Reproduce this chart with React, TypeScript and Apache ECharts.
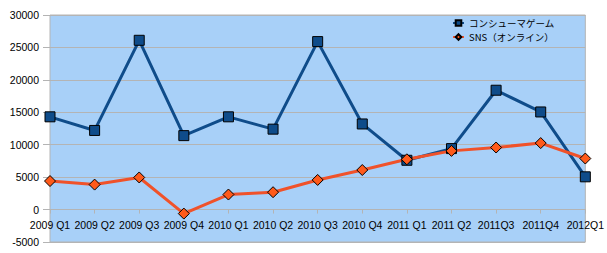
import React, { useEffect, useRef } from "react";
import * as echarts from "echarts";

const categories = [
  "2009 Q1", "2009 Q2", "2009 Q3", "2009 Q4",
  "2010 Q1", "2010 Q2", "2010 Q3", "2010 Q4",
  "2011 Q1", "2011 Q2", "2011Q3", "2011Q4", "2012Q1",
];
const consumerName = "コンシューマゲーム";
const snsName = "SNS（オンライン）";
const consumerValues = [14300, 12200, 26100, 11400, 14300, 12400, 25900, 13200, 7600, 9400, 18400, 15050, 5050];
const snsValues = [4400, 3850, 4950, -620, 2320, 2680, 4570, 6100, 7750, 9050, 9570, 10250, 7870];
const yMin = -5000;
const yMax = 30000;
const yInterval = 5000;

export default function App() {
  const ref = useRef<HTMLDivElement>(null);
  useEffect(() => {
    if (!ref.current) return;
    const chart = echarts.init(ref.current, undefined, { renderer: "svg" });
    const gray = "#b4b4b4";
    const font = "Liberation Sans";
    const gridTop = 15;
    const gridBottom = 11;
    const plotH = 253 - gridTop - gridBottom;
    // shift the category axis up from the bottom edge to the value 0
    const zeroOffset = -(plotH * (0 - yMin)) / (yMax - yMin);
    chart.setOption({
      animation: false,
      backgroundColor: "#ffffff",
      grid: {
        left: 50,
        right: 19,
        top: gridTop,
        bottom: gridBottom,
        show: true,
        backgroundColor: "#a8d0f8",
        borderColor: gray,
        borderWidth: 1,
      },
      legend: {
        orient: "vertical",
        left: 452,
        top: 16,
        padding: 0,
        itemWidth: 11,
        itemHeight: 7,
        itemGap: 0,
        textStyle: { fontSize: 9.5, lineHeight: 14, fontFamily: "Noto Sans CJK JP", color: "#000" },
        data: [consumerName, snsName],
      },
      xAxis: {
        type: "category",
        data: categories,
        boundaryGap: false,
        position: "bottom",
        offset: zeroOffset,
        axisLine: { show: true, onZero: false, lineStyle: { color: gray, width: 1 } },
        axisTick: { show: true, length: 4, lineStyle: { color: gray } },
        splitLine: { show: false },
        axisLabel: { interval: 0, margin: 10, fontSize: 10.5, fontFamily: font, color: "#000" },
      },
      yAxis: {
        type: "value",
        min: yMin,
        max: yMax,
        interval: yInterval,
        axisLine: { show: false },
        axisTick: { show: true, length: 7, lineStyle: { color: gray } },
        splitLine: { show: true, lineStyle: { color: gray, width: 1 } },
        axisLabel: {
          margin: 11,
          fontSize: 10.5,
          fontFamily: font,
          color: "#000",
          formatter: (v: number) => String(v),
        },
      },
      series: [
        {
          name: consumerName,
          type: "line",
          data: consumerValues,
          symbol: "rect",
          symbolSize: 10,
          lineStyle: { color: "#0f4c8a", width: 3 },
          itemStyle: { color: "#0f4c8a", borderColor: "#000", borderWidth: 1 },
        },
        {
          name: snsName,
          type: "line",
          data: snsValues,
          symbol: "diamond",
          symbolSize: 11,
          lineStyle: { color: "#f0522a", width: 3 },
          itemStyle: { color: "#ff5a1a", borderColor: "#000", borderWidth: 1 },
        },
      ],
    });
    return () => chart.dispose();
  }, []);
  return (
    <div
      ref={ref}
      style={{ position: "fixed", left: 0, top: 0, width: 607, height: 253 }}
    />
  );
}
